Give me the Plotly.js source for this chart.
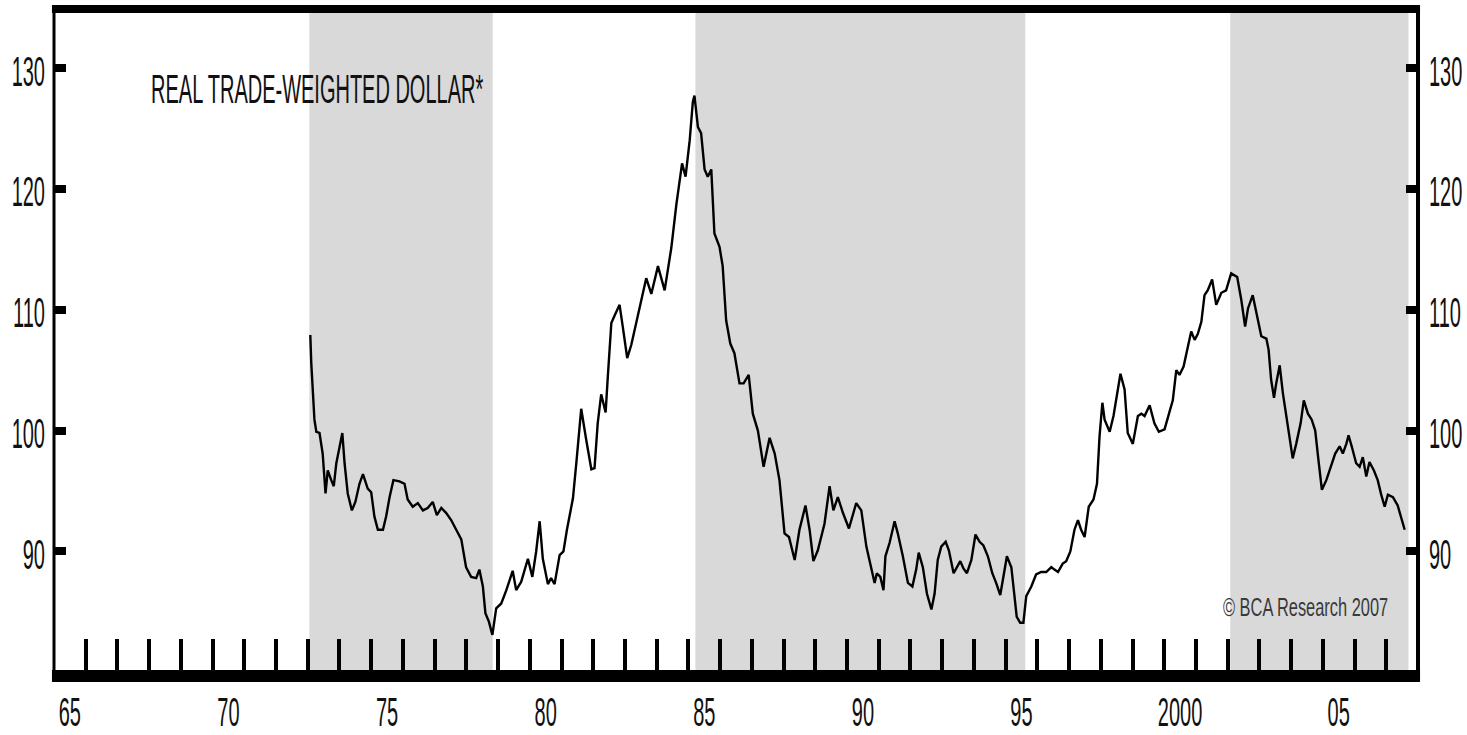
<!DOCTYPE html>
<html><head><meta charset="utf-8">
<script src="https://cdn.plot.ly/plotly-3.0.1.min.js"></script>
<style>html,body{margin:0;padding:0;background:#fff;} #chart{width:1467px;height:735px;}</style>
</head><body><div id="chart"></div>
<script>
// Decimal year of each reading and the index value
const months = [
1973.08,1973.11,1973.21,1973.27,1973.37,1973.47,1973.56,1973.63,1973.74,1973.82,1973.90,1973.98,
1974.09,1974.16,1974.26,1974.39,1974.50,1974.63,1974.74,1974.89,1975.00,1975.10,1975.21,1975.37,
1975.47,1975.58,1975.70,1975.89,1976.05,1976.15,1976.31,1976.47,1976.63,1976.78,1976.94,1977.07,
1977.21,1977.36,1977.52,1977.68,1977.84,1977.99,1978.15,1978.31,1978.41,1978.52,1978.60,1978.71,
1978.82,1978.94,1979.10,1979.26,1979.46,1979.57,1979.73,1979.94,1980.08,1980.20,1980.31,1980.41,
1980.57,1980.67,1980.78,1980.94,1981.06,1981.17,1981.36,1981.48,1981.62,1981.78,1981.94,1982.04,
1982.14,1982.25,1982.39,1982.46,1982.57,1982.67,1982.83,1982.93,1983.07,1983.20,1983.35,1983.51,
1983.67,1983.83,1984.04,1984.25,1984.46,1984.62,1984.80,1984.91,1985.04,1985.14,1985.19,1985.30,
1985.40,1985.51,1985.61,1985.72,1985.82,1985.98,1986.08,1986.19,1986.32,1986.45,1986.61,1986.74,
1986.90,1987.03,1987.19,1987.37,1987.56,1987.72,1987.87,1988.03,1988.17,1988.35,1988.50,1988.69,
1988.82,1988.94,1989.08,1989.29,1989.45,1989.57,1989.71,1989.87,1990.06,1990.29,1990.45,1990.61,
1990.76,1990.87,1990.94,1991.05,1991.15,1991.21,1991.34,1991.50,1991.60,1991.76,1991.92,1992.06,
1992.18,1992.26,1992.39,1992.52,1992.66,1992.76,1992.86,1992.97,1993.11,1993.21,1993.36,1993.46,
1993.57,1993.67,1993.78,1993.92,1994.05,1994.18,1994.30,1994.44,1994.58,1994.70,1994.83,1994.91,
1995.04,1995.18,1995.28,1995.35,1995.46,1995.56,1995.65,1995.81,1995.96,1996.12,1996.28,1996.44,
1996.54,1996.65,1996.80,1996.91,1997.04,1997.17,1997.28,1997.38,1997.49,1997.62,1997.77,1997.88,
1997.96,1998.05,1998.12,1998.28,1998.40,1998.49,1998.62,1998.75,1998.85,1999.01,1999.17,1999.28,
1999.38,1999.54,1999.69,1999.83,2000.01,2000.15,2000.27,2000.38,2000.48,2000.61,2000.74,2000.85,
2000.96,2001.06,2001.17,2001.27,2001.37,2001.51,2001.64,2001.80,2001.95,2002.11,2002.30,2002.43,
2002.55,2002.64,2002.79,2002.93,2003.06,2003.22,2003.29,2003.37,2003.46,2003.53,2003.64,2003.74,
2003.85,2003.95,2004.05,2004.16,2004.30,2004.40,2004.53,2004.65,2004.76,2004.86,2004.97,2005.11,
2005.24,2005.39,2005.53,2005.63,2005.74,2005.81,2005.91,2006.05,2006.16,2006.26,2006.37,2006.47,
2006.61,2006.73,2006.84,2006.95,2007.05,2007.21,2007.36,2007.47,2007.58
];
const dollar = [
107.9,105.6,100.9,99.9,99.8,98.1,94.8,96.7,95.9,95.4,97.3,98.4,
99.8,97.3,94.8,93.4,94.1,95.6,96.4,95.2,94.9,92.9,91.8,91.8,
92.9,94.5,95.9,95.8,95.6,94.3,93.7,94.0,93.4,93.6,94.1,93.0,
93.6,93.2,92.6,91.8,91.0,88.7,87.9,87.8,88.5,87.1,84.9,84.2,
83.1,85.3,85.7,86.8,88.4,86.8,87.5,89.4,87.9,90.0,92.5,89.4,
87.3,87.8,87.3,89.7,90.0,91.8,94.4,97.7,101.8,99.2,96.8,96.9,
100.6,103.0,101.5,104.5,108.9,109.5,110.4,108.6,106.0,107.1,108.9,110.7,
112.6,111.3,113.6,111.6,115.1,118.7,122.1,121.0,124.0,127.2,127.7,125.1,
124.6,121.6,121.0,121.6,116.3,115.2,113.6,109.1,107.2,106.4,103.9,103.9,
104.6,101.4,100.0,97.0,99.4,98.1,95.9,91.5,91.2,89.3,91.8,93.8,
91.8,89.2,90.1,92.3,95.4,93.4,94.5,93.2,91.9,94.0,93.4,90.4,
88.5,87.4,88.2,87.9,86.8,89.6,90.7,92.5,91.5,89.6,87.4,87.1,
88.5,89.9,88.7,86.5,85.2,86.5,89.3,90.4,90.8,90.1,88.2,88.7,
89.2,88.6,88.2,89.3,91.4,90.8,90.5,89.6,88.2,87.4,86.4,87.6,
89.6,88.7,86.5,84.6,84.1,84.1,86.3,87.1,88.1,88.3,88.3,88.7,
88.5,88.3,89.0,89.2,90.0,91.8,92.6,91.8,91.2,93.7,94.3,95.6,
99.5,102.3,100.9,99.9,101.2,102.8,104.7,103.4,99.8,98.9,101.2,101.4,
101.2,102.1,100.6,99.9,100.1,101.4,102.5,105.0,104.6,105.3,106.9,108.2,
107.5,108.0,109.0,111.2,111.6,112.5,110.4,111.4,111.6,113.0,112.7,110.8,
108.6,110.1,111.2,109.4,107.8,107.6,106.7,104.2,102.7,103.9,105.4,103.1,
101.2,99.5,97.7,98.9,100.6,102.5,101.4,100.9,100.0,97.6,95.1,95.9,
97.0,98.1,98.7,98.1,98.9,99.6,98.7,97.3,97.0,97.8,96.2,97.4,
96.7,95.9,94.7,93.7,94.7,94.5,93.8,92.9,91.8
];
// Shaded periods (decimal years)
const shadeStarts = [1973.05, 1985.22, 2002.08];
const shadeEnds   = [1978.83, 1995.62, 2007.70];
// Axis ticks and labels
const yTickVals  = [90, 100, 110, 120, 130];
const xLabelPos  = [1965.5, 1970.5, 1975.5, 1980.5, 1985.5, 1990.5, 1995.5, 2000.5, 2005.5];
const xLabelText = ['65', '70', '75', '80', '85', '90', '95', '2000', '05'];
const xRange = [1965, 2008];
const yRange = [79.70, 134.87];
const titleText  = 'REAL TRADE-WEIGHTED DOLLAR*';
const sourceText = '\u00A9 BCA Research 2007';

const yearTicks = [];
for (let y = xRange[0] + 1; y < xRange[1]; y++) yearTicks.push(y);

const FONT = '"Liberation Sans", Arial, sans-serif';
const tickFont = {family: FONT, size: 20, color: '#111'};

const shapes = [];
for (let i = 0; i < shadeStarts.length; i++) {
  shapes.push({type: 'rect', xref: 'x', yref: 'paper', x0: shadeStarts[i], x1: shadeEnds[i],
    y0: 0, y1: 1, fillcolor: '#d9d9d9', line: {width: 0}, layer: 'below'});
}
shapes.push({type: 'line', xref: 'paper', yref: 'paper', x0: -0.0015, x1: 1.0015, y0: 1, y1: 1, line: {color: '#000', width: 8}, layer: 'above'});
shapes.push({type: 'line', xref: 'paper', yref: 'paper', x0: -0.0015, x1: 1.0015, y0: 0, y1: 0, line: {color: '#000', width: 12}, layer: 'above'});
shapes.push({type: 'line', xref: 'paper', yref: 'paper', x0: 0, x1: 0, y0: -0.009, y1: 1.006, line: {color: '#000', width: 3}, layer: 'above'});
shapes.push({type: 'line', xref: 'paper', yref: 'paper', x0: 1, x1: 1, y0: -0.009, y1: 1.006, line: {color: '#000', width: 4}, layer: 'above'});

const yCommon = {
  range: yRange, tickmode: 'array', tickvals: yTickVals, ticks: 'inside', ticklen: 12,
  tickwidth: 8, tickcolor: '#000', showgrid: false, zeroline: false, showline: false,
  tickfont: tickFont, automargin: false, fixedrange: true
};

const data = [
  {x: months, y: dollar, type: 'scatter', mode: 'lines', line: {color: '#000', width: 2.4}, hoverinfo: 'skip', showlegend: false},
  {x: [], y: [], type: 'scatter', mode: 'lines', yaxis: 'y2', hoverinfo: 'skip', showlegend: false}
];

const layout = {
  width: 1467, height: 735,
  margin: {l: 54, r: 49, t: 9, b: 59, pad: 0},
  paper_bgcolor: '#fff', plot_bgcolor: '#fff',
  showlegend: false,
  xaxis: {
    range: xRange, tickmode: 'array', tickvals: xLabelPos, ticktext: xLabelText, ticks: '',
    showgrid: false, zeroline: false, showline: false, tickfont: tickFont,
    ticklabelstandoff: 14, automargin: false, fixedrange: true,
    minor: {tickmode: 'array', tickvals: yearTicks, ticks: 'inside', ticklen: 37, tickwidth: 4, tickcolor: '#000', showgrid: false}
  },
  yaxis: Object.assign({}, yCommon, {side: 'left', ticklabelstandoff: 8}),
  yaxis2: Object.assign({}, yCommon, {side: 'right', overlaying: 'y', anchor: 'x', ticklabelstandoff: 10}),
  shapes: shapes,
  annotations: [
    {xref: 'paper', yref: 'paper', x: (317.5 - 54) / 1364, y: (676 - 89) / 667, xanchor: 'center', yanchor: 'middle',
     text: titleText, showarrow: false, font: {family: FONT, size: 20, color: '#111'}},
    {xref: 'paper', yref: 'paper', x: (1305 - 54) / 1364, y: (676 - 606) / 667, xanchor: 'center', yanchor: 'middle',
     text: sourceText, showarrow: false, font: {family: FONT, size: 16.4, color: '#3a3a3a'}}
  ]
};

Plotly.newPlot('chart', data, layout, {staticPlot: true, displayModeBar: false}).then(function (gd) {
  // the original lettering is tall and condensed: stretch each text vertically about its centre
  function stretch(t, k, targetY, extraDy) {
    const bb = t.getBBox();
    const cy = bb.y + bb.height / 2;
    const r = t.getBoundingClientRect();
    const cur = r.top + r.height / 2;
    let dy = (targetY == null) ? 0 : targetY - cur;
    dy += extraDy || 0;
    const base = t.getAttribute('transform') || '';
    t.setAttribute('transform', base + ' translate(0,' + dy.toFixed(2) + ') translate(0,' + cy.toFixed(2) +
      ') scale(1,' + k + ') translate(0,' + (-cy).toFixed(2) + ')');
  }
  gd.querySelectorAll('g.xtick text').forEach(function (t) { stretch(t, 2.05, 711.5, 0); });
  gd.querySelectorAll('g.ytick text, g.y2tick text').forEach(function (t) { stretch(t, 2.1, null, 3); });
  const ann = gd.querySelectorAll('text.annotation-text');
  if (ann[0]) stretch(ann[0], 2.0, 89, 0);
  if (ann[1]) stretch(ann[1], 1.6, 606, 0);
});
</script>
</body></html>
